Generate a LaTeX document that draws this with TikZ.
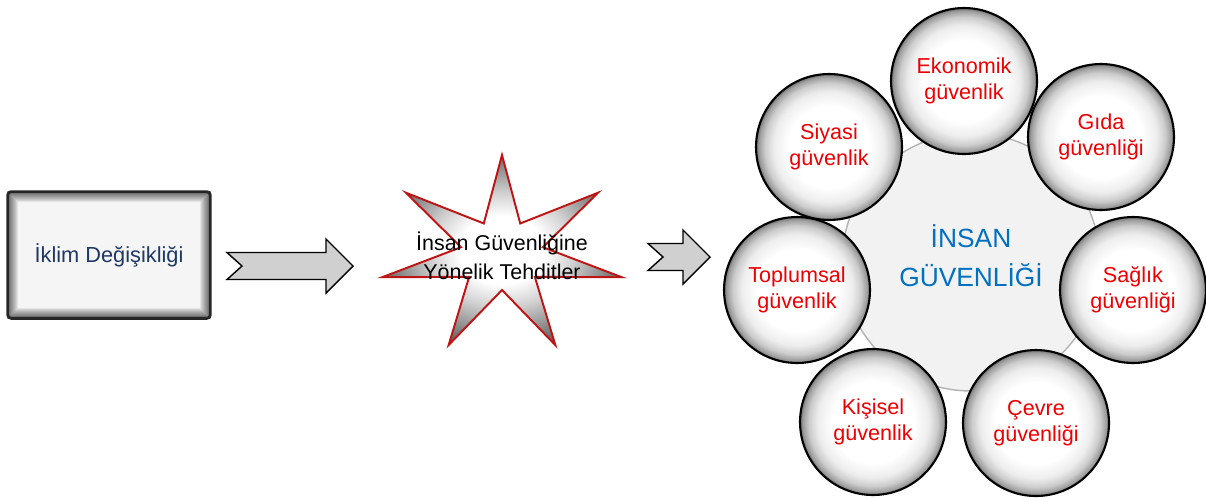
\documentclass[tikz,border=0pt]{standalone}
\usepackage{fontspec}
\setmainfont{Liberation Sans}
\usepackage{tikz}
\usetikzlibrary{shapes.geometric, calc, positioning}

\definecolor{navytext}{RGB}{31,56,100}
\definecolor{bluetext}{RGB}{0,112,192}
\definecolor{redtext}{RGB}{238,0,0}
\definecolor{starline}{RGB}{190,20,20}
\definecolor{arrowgray}{RGB}{208,208,208}

\pgfdeclareradialshading{ballshade}{\pgfpoint{0bp}{0bp}}{color(0bp)=(white); color(14bp)=(white); color(19bp)=(black!7); color(22bp)=(black!20); color(24bp)=(black!38); color(25bp)=(black!55); color(50bp)=(black!55)}
\pgfdeclareradialshading{starshade}{\pgfpoint{0bp}{0bp}}{color(0bp)=(white); color(9bp)=(white); color(15bp)=(black!18); color(25bp)=(black!58); color(50bp)=(black!58)}

\begin{document}
\begin{tikzpicture}[x=0.02cm, y=-0.02cm,
    bubble/.style={circle, draw=black, line width=1.2pt, minimum size=2.92cm, inner sep=0pt, shade, shading=ballshade, align=center, text=redtext, font=\fontsize{12.3}{14.7}\selectfont},
    core/.style={circle, draw=black!30, line width=0.8pt, fill=black!5, minimum size=5.16cm},
    causebox/.style={rectangle, minimum width=4.04cm, minimum height=2.52cm, fill=black!4, text=navytext, font=\fontsize{12.4}{15}\selectfont},
    blockarr/.style={draw=black, line width=0.8pt, fill=arrowgray, line join=miter},
    pics/chevron/.style={code={\draw[blockarr] (0,-13.5) -- (#1-27,-13.5) -- (#1-27,-27) -- (#1,0) -- (#1-27,27) -- (#1-27,13.5) -- (0,13.5) -- (15,0) -- cycle;}}]
    \useasboundingbox (0,0) rectangle (1206,498);

    % Cause box with inner shadow
    \node[causebox] (iklim) at (109,255) {İklim Değişikliği};
    \begin{scope}
        \clip (iklim.north west) rectangle (iklim.south east);
        \foreach \w in {2,4,...,20}
            \draw[black, opacity=0.07, line width=\w*0.567pt] (iklim.north west) rectangle (iklim.south east);
    \end{scope}
    \draw[black!85, line width=1.6pt, rounded corners=2pt] (iklim.north west) rectangle (iklim.south east);

    % Block arrows
    \pic at (227,266) {chevron=126};
    \pic at (648,257) {chevron=62};

    % Seven-pointed star
    \begin{scope}[shift={(502,255)}]
        \shadedraw[shading=starshade, draw=starline, line width=1.1pt, line join=miter]
            (270:123 and 100)
            \foreach \k in {1,...,6} { -- (270+\k*51.4286-25.7143:42 and 35) -- (270+\k*51.4286:123 and 100) }
            -- (270-25.7143:42 and 35) -- cycle;
    \end{scope}
    \node[align=center, font=\fontsize{12.2}{16.4}\selectfont] (tehdit) at (502,256) {İnsan Güvenliğine\\Yönelik Tehditler};

    % Human security and its dimensions
    \node[core] (insan) at (971,262) {};
    \node[align=center, text=bluetext, font=\fontsize{15}{22}\selectfont] (insanlbl) at (971,256) {İNSAN\\GÜVENLİĞİ};
    \foreach \name/\x/\y/\txt in {eko/964/81/{Ekonomik\\güvenlik}, gida/1101/137/{Gıda\\güvenliği},
        saglik/1133/290/{Sağlık\\güvenliği}, cevre/1036/423/{Çevre\\güvenliği},
        kisisel/873/422/{Kişisel\\güvenlik}, toplum/797/290/{Toplumsal\\güvenlik},
        siyasi/829/147/{Siyasi\\güvenlik}}
        \node[bubble] (\name) at (\x,\y) {\txt};
\end{tikzpicture}
\end{document}
